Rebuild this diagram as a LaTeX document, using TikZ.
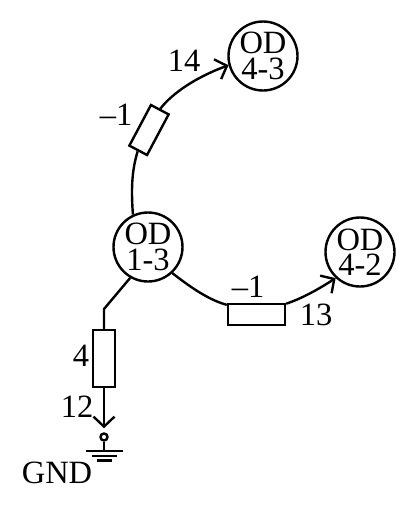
\documentclass[tikz,border=0pt]{standalone}
\usepackage{fontspec}
\setmainfont{Liberation Serif}
\usetikzlibrary{arrows.meta, positioning}

\tikzset{
  odnode/.style={draw, circle, minimum size=69pt, inner sep=0pt, align=center},
  resbox/.style={draw, fill=white, rectangle, inner sep=0pt},
  termnode/.style={draw, circle, minimum size=7pt, inner sep=0pt},
  valuelabel/.style={inner sep=0pt},
}

\begin{document}
\begin{tikzpicture}[
    x=1pt, y=-1pt,
    >={Straight Barb[length=10pt, width=21pt, line width=2.4pt]},
    line width=2.4pt,
    font=\fontsize{32.5}{25.5}\selectfont,
]
\useasboundingbox (0, 0) rectangle (416, 512);

% ---- OD nodes ----
\node[odnode] (od43) at (263, 56)  {OD\\4-3};
\node[odnode] (od13) at (148, 247) {OD\\1-3};
\node[odnode] (od42) at (360, 252) {OD\\4-2};

% ---- resistors ----
\node[resbox, minimum width=46pt, minimum height=20pt, rotate=62] (res43) at (149, 130) {};
\node[resbox, minimum width=57pt, minimum height=21pt] (res42) at (256.5, 314.5) {};
\node[resbox, minimum width=22pt, minimum height=57pt] (res12) at (104, 358.5) {};

% ---- ground terminal ----
\node[termnode] (term) at (104, 437) {};
\coordinate (bend) at (104, 309);
\coordinate (gnd) at (104, 451);

% ---- connectors ----
\draw (od13.115) to[out=94, in=-107, looseness=0.9] (res43.west);
\draw[->] (res43.east) to[out=52, in=200, looseness=0.8] (od43.195);
\draw (od13.-47) to[out=-38, in=165, looseness=0.8] (res42.162);
\draw[->] (res42.20) to[out=18, in=213, looseness=0.8] (od42.227);
\draw (od13.240) -- (bend) -- (res12.north);
\draw[->, shorten >=4pt] (res12.south) -- (term.north);
\draw (term.south) -- (gnd);

% ---- ground bars ----
\foreach \dy/\hw in {0/18.5, 5/12.5, 9.5/7.5} {
  \draw ([xshift=-\hw pt, yshift=-\dy pt]gnd) -- ([xshift=\hw pt, yshift=-\dy pt]gnd);
}

% ---- labels ----
\node[valuelabel] (lab14)  at (184, 61)  {14};
\node[valuelabel] (labm1a) at (116, 115) {–1};
\node[valuelabel] (labm1b) at (248, 287) {–1};
\node[valuelabel] (lab13)  at (316, 315) {13};
\node[valuelabel] (lab4)   at (81, 356)  {4};
\node[valuelabel] (lab12)  at (77, 407)  {12};
\node[valuelabel] (labgnd) at (57, 473)  {GND};

\end{tikzpicture}
\end{document}
